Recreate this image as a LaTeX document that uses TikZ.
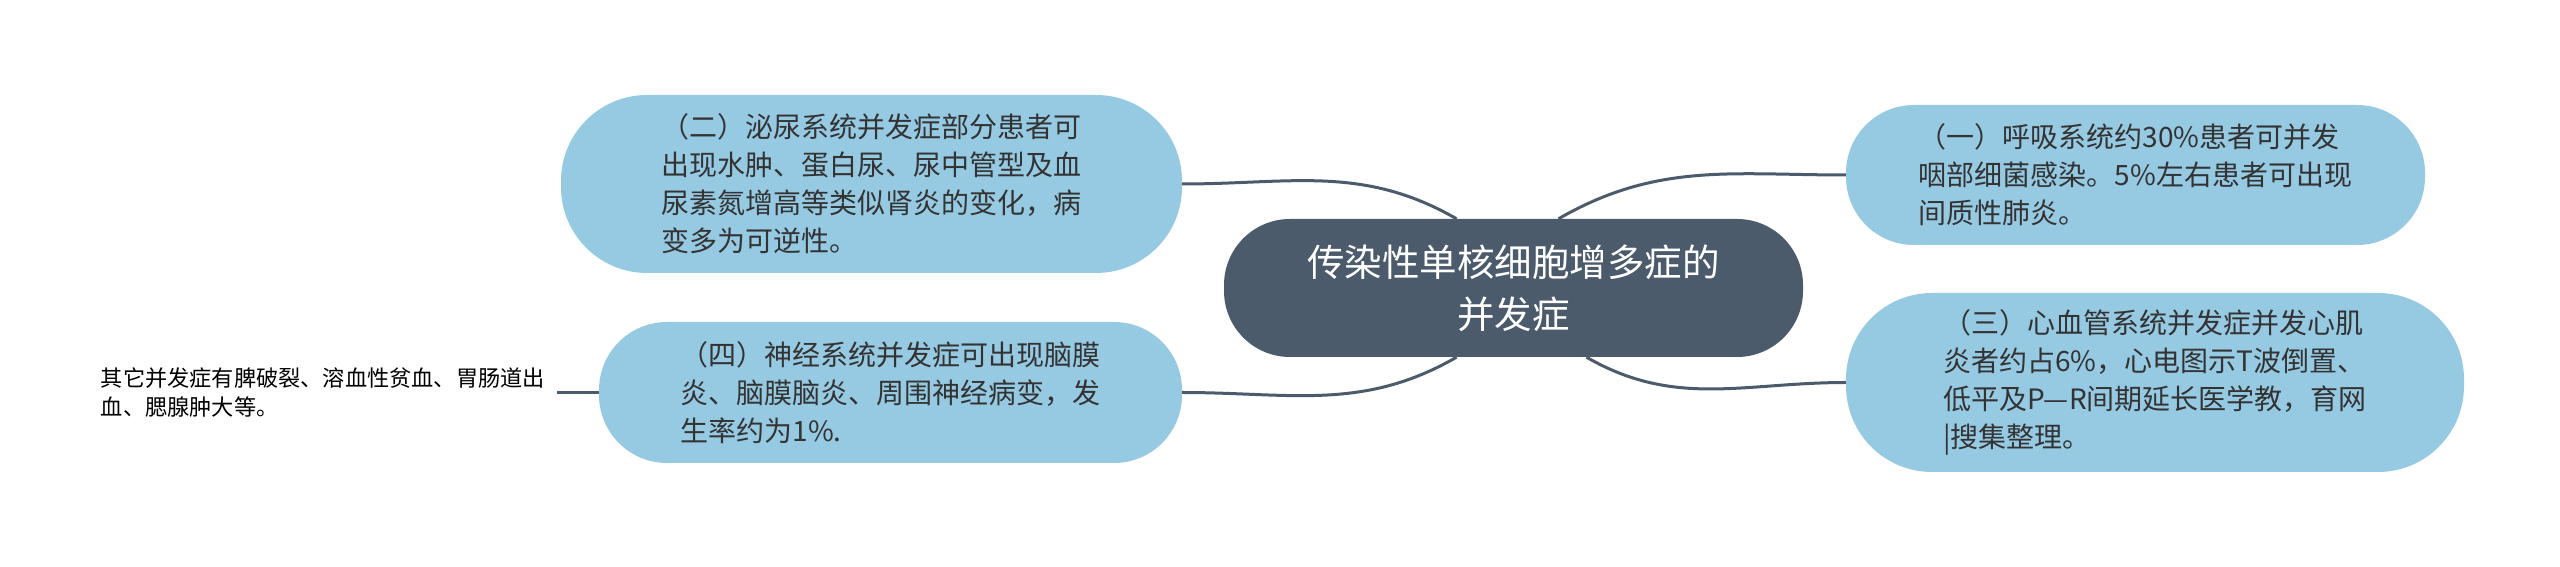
\documentclass[tikz,border=0pt]{standalone}
\usepackage{fontspec}
\setmainfont{Noto Sans CJK SC}
\definecolor{hubc}{HTML}{4B5B6B}
\definecolor{leafc}{HTML}{96C9E2}
\definecolor{inkc}{HTML}{333333}

\begin{document}
\begin{tikzpicture}[x=1pt, y=1pt,
    hub/.style={fill=hubc, text=white, align=center, rounded corners=66pt,
        minimum width=579pt, minimum height=138pt,
        font=\fontsize{37.5}{52}\selectfont},
    topic/.style={fill=leafc, text=inkc, align=left,
        font=\fontsize{28}{38}\selectfont},
    note/.style={text=black, align=left, inner xsep=12pt,
        font=\fontsize{22.2}{28.5}\selectfont},
    link/.style={draw=hubc, line width=3pt}]
    % Lienzo
    \useasboundingbox (0,0) rectangle (2560,567);

    % Nodo central
    \node[hub] (main) at (1513.5,279) {传染性单核细胞增多症的\\并发症};

    % Ramas izquierda
    \node[topic, rounded corners=86pt, minimum width=621pt, minimum height=178pt]
        (uri) at (871.5,383) {（二）泌尿系统并发症部分患者可\\出现水肿、蛋白尿、尿中管型及血\\尿素氮增高等类似肾炎的变化，病\\变多为可逆性。};
    \node[topic, rounded corners=68pt, minimum width=583pt, minimum height=141pt]
        (neu) at (890.5,174.5) {（四）神经系统并发症可出现脑膜\\炎、脑膜脑炎、周围神经病变，发\\生率约为1\%.};

    % Ramas derecha
    \node[topic, rounded corners=68pt, minimum width=579pt, minimum height=140pt]
        (res) at (2135.5,392) {（一）呼吸系统约30\%患者可并发\\咽部细菌感染。5\%左右患者可出现\\间质性肺炎。};
    \node[topic, rounded corners=86pt, minimum width=618pt, minimum height=179pt]
        (car) at (2155,184.5) {（三）心血管系统并发症并发心肌\\炎者约占6\%，心电图示T波倒置、\\低平及P—R间期延长医学教，育网\\|搜集整理。};

    % Nota
    \node[note, anchor=east] (otr) at (557,174.5) {其它并发症有脾破裂、溶血性贫血、胃肠道出\\血、腮腺肿大等。};

    % Conectores
    \draw[link] (uri.east) to[out=0, in=150] ([xshift=-57pt]main.north);
    \draw[link] (neu.east) to[out=0, in=210] ([xshift=-57pt]main.south);
    \draw[link] (res.west) to[out=180, in=30] ([xshift=45pt]main.north);
    \draw[link] (car.west) to[out=180, in=-30] ([xshift=73pt]main.south);
    \draw[link] (otr.east) -- (neu.west);
\end{tikzpicture}
\end{document}
